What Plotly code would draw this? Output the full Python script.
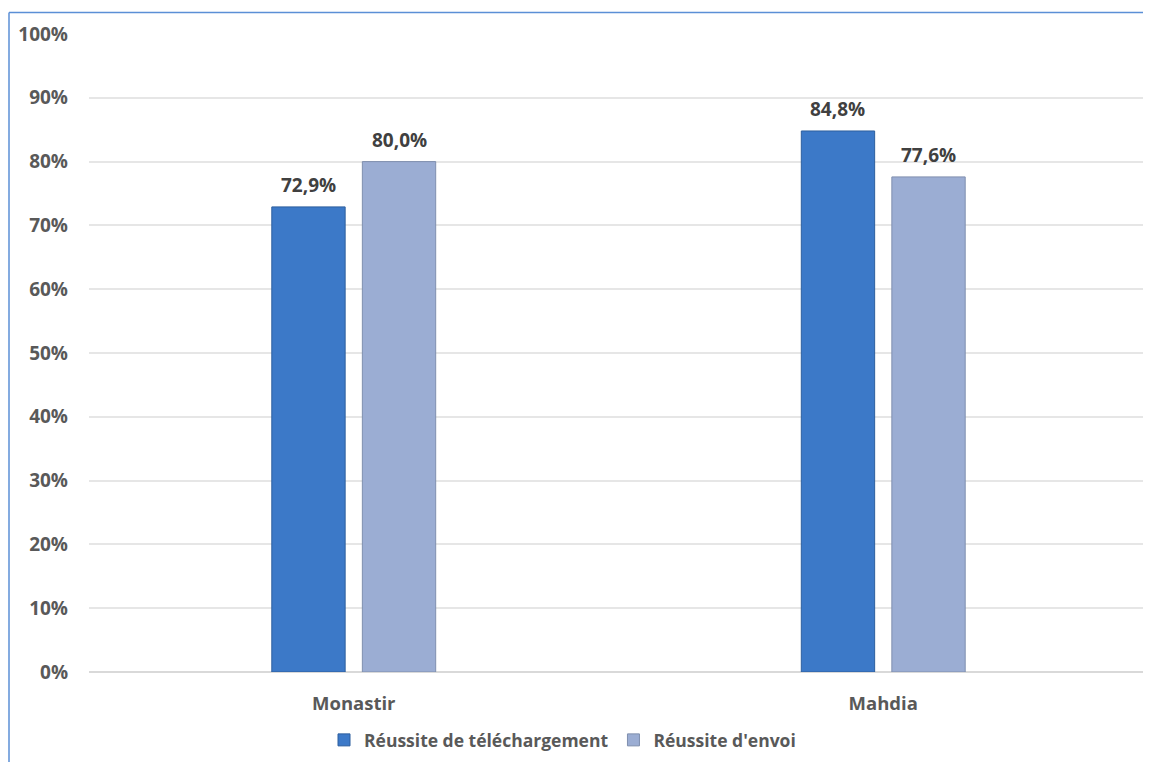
import plotly.graph_objects as go

categories = ["Monastir", "Mahdia"]
series_names = ["Réussite de téléchargement", "Réussite d'envoi"]
telechargement = [72.9, 84.8]
envoi = [80.0, 77.6]
tick_vals = [0, 10, 20, 30, 40, 50, 60, 70, 80, 90, 100]
tick_text = [f"{v}%" for v in tick_vals]

FONT = "Open Sans"
GRAY = "#595959"
OFF = 8  # page body margin
W, H = 1151 - OFF, 762 - OFF
ML, MT = 89 - OFF, 34 - OFF
MR = W - (1148 - OFF)
MB = H - (672 - OFF)

fig = go.Figure()
fig.add_trace(go.Bar(
    name=series_names[0], x=categories, y=telechargement,
    marker=dict(color="#3c79c8", line=dict(color="#2d5f9e", width=1)),
    hoverinfo="x+y",
))
fig.add_trace(go.Bar(
    name=series_names[1], x=categories, y=envoi,
    marker=dict(color="#9badd3", line=dict(color="#7f8fae", width=1)),
    hoverinfo="x+y",
))

plot_w = W - ML - MR
plot_h = H - MT - MB
band = plot_w / len(categories)
bargap = 0.658
slot = band * (1 - bargap) / 2
offsets = [-slot / 2, slot / 2]
for si, vals in enumerate([telechargement, envoi]):
    for ci, v in enumerate(vals):
        fig.add_annotation(
            x=categories[ci], y=v, xref="x", yref="y",
            text=f"{v:.1f}%".replace(".", ","),
            showarrow=False, xshift=offsets[si], yshift=7,
            yanchor="bottom", xanchor="center",
            font=dict(family=FONT, size=19, color="#404040", weight="bold"),
        )

# outer chart border (left and top)
left_x = (9 - OFF - ML) / plot_w
top_y = 1 + (MT - (12.5 - OFF)) / plot_h
bottom_y = -(MB + 10) / plot_h
fig.add_shape(type="line", xref="paper", yref="paper",
              x0=left_x, x1=left_x, y0=bottom_y, y1=top_y,
              line=dict(color="#5b8fd6", width=1.5))
fig.add_shape(type="line", xref="paper", yref="paper",
              x0=left_x, x1=1 + (MR + 10) / plot_w, y0=top_y, y1=top_y,
              line=dict(color="#5b8fd6", width=1.5))

fig.update_layout(
    width=W, height=H,
    margin=dict(l=ML, r=MR, t=MT, b=MB),
    paper_bgcolor="white", plot_bgcolor="white",
    barmode="group", bargap=bargap, bargroupgap=0.19,
    font=dict(family=FONT, size=18, color=GRAY),
    showlegend=True,
    legend=dict(orientation="h", x=0.5 - 56 / plot_w, xanchor="center",
                y=-(740 - 672) / plot_h, yanchor="middle",
                font=dict(family=FONT, size=17.5, color=GRAY, weight="bold"),
                itemwidth=30, tracegroupgap=0),
    xaxis=dict(showgrid=False, showline=False, ticks="",
               tickfont=dict(family=FONT, size=18.5, color=GRAY, weight="bold"),
               ticklabelstandoff=18),
    yaxis=dict(range=[0, 100], tickvals=tick_vals, ticktext=tick_text,
               showgrid=True, gridcolor="#e6e6e6", gridwidth=1.5,
               zeroline=True, zerolinecolor="#d9d9d9", zerolinewidth=1.5,
               showline=False, ticks="",
               tickfont=dict(family=FONT, size=19, color=GRAY, weight="bold"),
               ticklabelstandoff=20),
)

fig.write_html("out.html")
